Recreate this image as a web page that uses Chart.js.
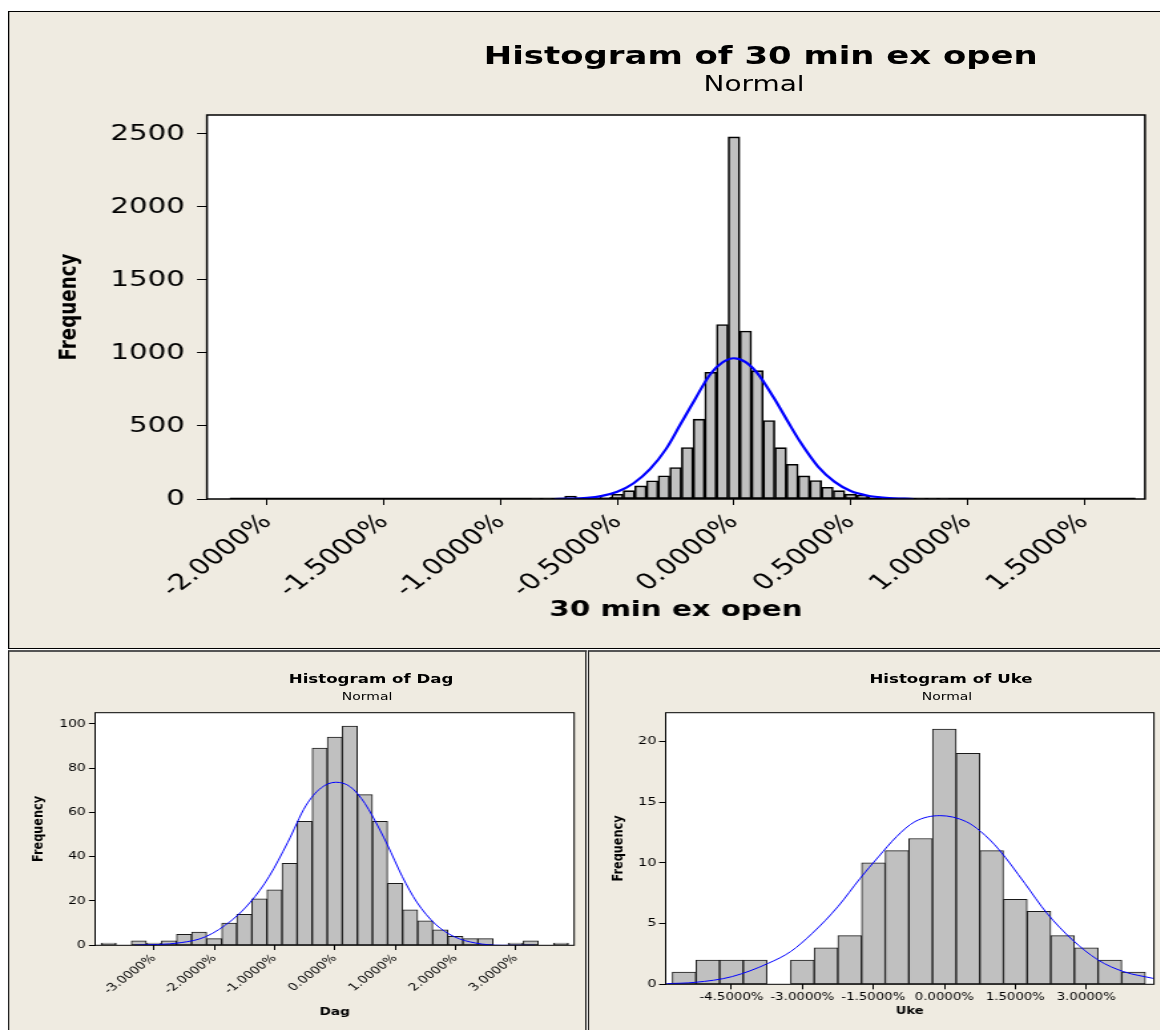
<!DOCTYPE html>
<html>
<head>
<meta charset="utf-8">
<script src="https://cdn.jsdelivr.net/npm/chart.js@4.4.0/dist/chart.umd.min.js"></script>
<style>
  html, body { margin: 0; padding: 0; background: #fff; }
  body { width: 1160px; height: 1030px; overflow: hidden; position: relative; }
  /* the reference is stretched sideways, so everything is laid out narrow and widened */
  #page { position: absolute; left: 0; top: 0; width: 872px; height: 1030px;
          transform: scaleX(1.33); transform-origin: 0 0;
          font-family: 'DejaVu Sans', sans-serif; color: #000; }
  .panel { position: absolute; background: #efebe1; box-sizing: border-box; }
  .ttl { position: absolute; width: 500px; text-align: center; line-height: 1; white-space: nowrap; }
  canvas { position: absolute; }
</style>
</head>
<body>
<div id="page">
  <div class="panel" style="left:6px;top:11px;width:880px;height:638px;border:1.5px solid #000;"></div>
  <div class="panel" style="left:6px;top:650px;width:435px;height:400px;border:1px solid #222;border-top:2px solid #555;"></div>
  <div class="panel" style="left:442px;top:650px;width:440px;height:400px;border:1px solid #222;border-top:2px solid #555;"></div>

  <div class="ttl" style="left:322px;top:43px;font-size:25.5px;font-weight:bold;">Histogram of 30 min ex open</div>
  <div class="ttl" style="left:317px;top:74px;font-size:21px;">Normal</div>
  <div class="ttl" style="left:29px;top:673px;font-size:12.5px;font-weight:bold;">Histogram of Dag</div>
  <div class="ttl" style="left:26px;top:691px;font-size:10.5px;">Normal</div>
  <div class="ttl" style="left:465px;top:673px;font-size:12.5px;font-weight:bold;">Histogram of Uke</div>
  <div class="ttl" style="left:462px;top:691px;font-size:10.5px;">Normal</div>

  <canvas id="chartA" width="872" height="648" style="left:0;top:0;"></canvas>
  <canvas id="chartB" width="435" height="379" style="left:6px;top:651px;"></canvas>
  <canvas id="chartC" width="430" height="379" style="left:442px;top:651px;"></canvas>
</div>
<script>
// 30 min ex open: class midpoints (%) and counts
const binsA = [-0.85, -0.80, -0.75, -0.70, -0.65, -0.60, -0.55, -0.50, -0.45, -0.40, -0.35, -0.30,
               -0.25, -0.20, -0.15, -0.10, -0.05, 0.00, 0.05, 0.10, 0.15, 0.20, 0.25, 0.30,
               0.35, 0.40, 0.45, 0.50, 0.55, 0.60, 0.65, 0.70, 0.75, 0.80, 0.85, 0.90];
const countsA = [4, 4, 5, 20, 5, 7, 12, 32, 57, 90, 125, 159,
                 216, 353, 547, 868, 1195, 2480, 1150, 879, 537, 352, 238, 158,
                 126, 80, 57, 33, 25, 15, 6, 5, 4, 3, 3, 3];
// fitted normal curve
const curveAx = [-0.77, -0.70, -0.63, -0.57, -0.50, -0.43, -0.36, -0.29, -0.23, -0.17, -0.10, -0.05,
                 0.00, 0.05, 0.10, 0.17, 0.23, 0.28, 0.36, 0.43, 0.50, 0.57, 0.65, 0.77];
const curveAy = [0, 2, 8, 20, 50, 108, 205, 345, 510, 675, 858, 935,
                 964, 938, 862, 695, 532, 400, 222, 119, 55, 24, 8, 0];
const emptyA = [-2.16, 1.72];   // span of the (nearly) empty classes
const xTicksA = [-2.0, -1.5, -1.0, -0.5, 0.0, 0.5, 1.0, 1.5];
const yTicksA = [0, 500, 1000, 1500, 2000, 2500];

// Dag
const binsB = [-3.75, -3.50, -3.25, -3.00, -2.75, -2.50, -2.25, -2.00, -1.75, -1.50, -1.25, -1.00,
               -0.75, -0.50, -0.25, 0.00, 0.25, 0.50, 0.75, 1.00, 1.25, 1.50, 1.75, 2.00,
               2.25, 2.50, 2.75, 3.00, 3.25, 3.50, 3.75];
const countsB = [1, 0, 2, 1, 2, 5, 6, 3, 10, 14, 21, 25,
                 37, 56, 89, 94, 99, 68, 56, 28, 16, 11, 7, 4,
                 3, 3, 0, 1, 2, 0, 1];
const curveBx = [-3.33, -2.55, -2.14, -1.70, -1.40, -1.09, -0.78, -0.48, -0.23, 0.02, 0.26, 0.50,
                 0.75, 0.87, 1.12, 1.36, 1.67, 1.98, 2.34, 2.77, 3.32];
const curveBy = [0, 1.2, 3.9, 11.5, 19.5, 31, 46.5, 63, 71, 73.6, 71.5, 64,
                 52, 45.5, 31, 19.5, 9.5, 3.9, 1, 0, 0];
const xTicksB = [-3, -2, -1, 0, 1, 2, 3];
const yTicksB = [0, 20, 40, 60, 80, 100];

// Uke
const binsC = [-5.5, -5.0, -4.5, -4.0, -3.5, -3.0, -2.5, -2.0, -1.5, -1.0,
               -0.5, 0.0, 0.5, 1.0, 1.5, 2.0, 2.5, 3.0, 3.5, 4.0];
const countsC = [1, 2, 2, 2, 0, 2, 3, 4, 10, 11, 12, 21, 19, 11, 7, 6, 4, 3, 2, 1];
const curveCx = [-5.87, -5.27, -4.49, -3.72, -3.25, -2.79, -2.25, -1.78, -1.39, -1.01, -0.62,
                 -0.09, 0.46, 0.77, 1.16, 1.70, 2.17, 2.71, 3.25, 3.79, 4.41];
const curveCy = [0.05, 0.16, 0.63, 1.73, 2.69, 4.2, 6.39, 8.72, 10.5, 12.15, 13.39,
                 13.88, 13.39, 12.57, 11.06, 8.31, 5.84, 3.65, 2.0, 1.04, 0.49];
const xTicksC = [-4.5, -3.0, -1.5, 0.0, 1.5, 3.0];
const yTicksC = [0, 5, 10, 15, 20];

Chart.defaults.font.family = "'DejaVu Sans', sans-serif";
Chart.defaults.color = '#000';

// white plot area with a box round it, like the Minitab frame
const plotFrame = {
  id: 'plotFrame',
  beforeDraw(chart) {
    const { ctx, chartArea: a } = chart;
    ctx.save();
    ctx.fillStyle = '#fff';
    ctx.fillRect(a.left, a.top, a.right - a.left, a.bottom - a.top);
    ctx.restore();
  },
  afterDraw(chart, args, opts) {
    const { ctx, chartArea: a } = chart;
    ctx.save();
    ctx.strokeStyle = '#000';
    ctx.lineWidth = opts.width;
    ctx.strokeRect(a.left, a.top, a.right - a.left, a.bottom - a.top);
    ctx.restore();
  }
};

function histogram(id, s) {
  const datasets = [
    {
      type: 'line',
      data: s.curveX.map((x, i) => ({ x, y: s.curveY[i] })),
      borderColor: '#0000ff', borderWidth: s.curveLine,
      pointRadius: 0, cubicInterpolationMode: 'monotone', order: 0
    },
    {
      type: 'bar',
      data: s.bins.map((x, i) => ({ x, y: s.counts[i] })),
      backgroundColor: '#c0c0c0', borderColor: s.barEdge, borderWidth: s.barLine,
      borderSkipped: false, barPercentage: 1, categoryPercentage: 1, grouped: false, order: 1
    }
  ];
  if (s.empty) {
    datasets.push({
      type: 'line',
      data: s.empty.map(x => ({ x, y: 0 })),
      borderColor: '#000', borderWidth: 2.5, pointRadius: 0, order: 2
    });
  }

  return new Chart(document.getElementById(id), {
    type: 'bar',
    data: { datasets },
    plugins: [plotFrame],
    options: {
      responsive: false,
      animation: false,
      layout: { padding: { left: 0, top: s.padTop, right: s.padRight, bottom: 0 } },
      plugins: {
        legend: { display: false },
        tooltip: { enabled: false },
        plotFrame: { width: s.frame }
      },
      scales: {
        x: {
          type: 'linear', min: s.xMin, max: s.xMax, offset: false,
          afterBuildTicks: sc => { sc.ticks = s.xTicks.map(value => ({ value })); },
          afterFit: sc => { sc.height = s.xHeight; },
          ticks: {
            callback: v => v.toFixed(4) + '%',
            font: { size: s.xTickSize }, padding: s.xTickPad,
            autoSkip: false, minRotation: s.rot, maxRotation: s.rot
          },
          grid: { offset: false, drawOnChartArea: false, tickLength: s.xTickLen, color: '#000' },
          border: { display: false },
          title: {
            display: true, text: s.xTitle,
            font: { size: s.xTitleSize, weight: 'bold' },
            padding: { top: 0, bottom: s.xTitlePad }
          }
        },
        y: {
          min: 0, max: s.yMax,
          afterBuildTicks: sc => { sc.ticks = s.yTicks.map(value => ({ value })); },
          afterFit: sc => { sc.width = s.yWidth; },
          ticks: { callback: v => String(v), font: { size: s.yTickSize }, padding: s.yTickPad },
          grid: { drawOnChartArea: false, tickLength: s.yTickLen, color: '#000' },
          border: { display: false },
          title: {
            display: true, text: 'Frequency',
            font: { size: s.yTitleSize, weight: 'bold' },
            padding: { top: s.yTitlePad, bottom: 0 }
          }
        }
      }
    }
  });
}

histogram('chartA', {
  bins: binsA, counts: countsA, curveX: curveAx, curveY: curveAy, empty: emptyA,
  xTicks: xTicksA, yTicks: yTicksA, xMin: -2.258, xMax: 1.761, yMax: 2630,
  padTop: 115, padRight: 11.1, yWidth: 155.6, xHeight: 149,
  yTickSize: 22, yTickLen: 7.5, yTickPad: 9, yTitleSize: 18.3, yTitlePad: 41,
  xTickSize: 22, xTickLen: 6, xTickPad: 4, rot: 45,
  xTitle: '30 min ex open', xTitleSize: 22, xTitlePad: 25,
  barEdge: '#000', barLine: 1.6, curveLine: 2.2, frame: 1.5
});

histogram('chartB', {
  bins: binsB, counts: countsB, curveX: curveBx, curveY: curveBy,
  xTicks: xTicksB, yTicks: yTicksB, xMin: -3.975, xMax: 3.97, yMax: 105,
  padTop: 61.7, padRight: 9.3, yWidth: 65.5, xHeight: 84.7,
  yTickSize: 10.5, yTickLen: 4.7, yTickPad: 2.3, yTitleSize: 11.3, yTitlePad: 16.4,
  xTickSize: 10.5, xTickLen: 4.7, xTickPad: 2, rot: 45,
  xTitle: 'Dag', xTitleSize: 10.3, xTitlePad: 11,
  barEdge: '#1a1a1a', barLine: 1, curveLine: 1, frame: 1
});

histogram('chartC', {
  bins: binsC, counts: countsC, curveX: curveCx, curveY: curveCy,
  xTicks: xTicksC, yTicks: yTicksC, xMin: -5.89, xMax: 4.43, yMax: 22.35,
  padTop: 61.7, padRight: 4.4, yWidth: 58.5, xHeight: 45.7,
  yTickSize: 10.8, yTickLen: 5, yTickPad: 2, yTitleSize: 11.3, yTitlePad: 16.1,
  xTickSize: 10, xTickLen: 5, xTickPad: 2, rot: 0,
  xTitle: 'Uke', xTitleSize: 9.8, xTitlePad: 12.5,
  barEdge: '#1a1a1a', barLine: 1, curveLine: 1, frame: 1
});
</script>
</body>
</html>
